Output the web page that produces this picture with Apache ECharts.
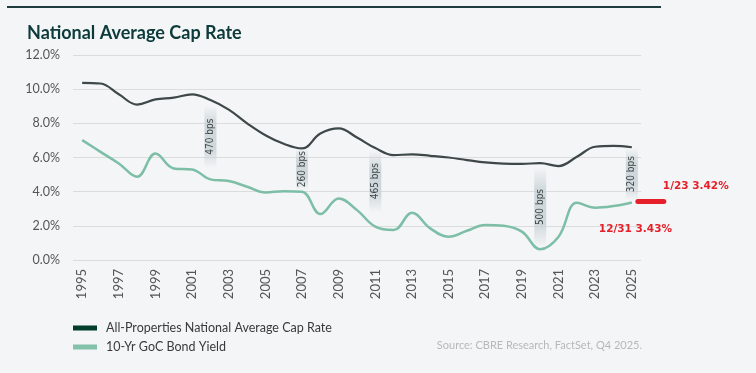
<!DOCTYPE html>
<html>
<head>
<meta charset="utf-8">
<script src="https://cdn.jsdelivr.net/npm/echarts@6/dist/echarts.min.js"></script>
<style>
html,body{margin:0;padding:0;background:#f4f5f6;}
#c{width:756px;height:373px;}
</style>
</head>
<body>
<div id="c"></div>
<script>
var years = ['1995','1996','1997','1998','1999','2000','2001','2002','2003','2004','2005','2006','2007','2008','2009','2010','2011','2012','2013','2014','2015','2016','2017','2018','2019','2020','2021','2022','2023','2024','2025'];
var capRate = [10.37,10.33,9.7,9.1,9.4,9.5,9.7,9.36,8.8,8.0,7.3,6.8,6.53,7.4,7.7,7.17,6.55,6.14,6.18,6.1,6.0,5.85,5.71,5.64,5.63,5.67,5.5,6.04,6.63,6.68,6.6];
var bondYield = [7.02,6.33,5.65,4.87,6.23,5.36,5.3,4.72,4.62,4.29,3.95,4.03,4.0,2.69,3.6,2.92,1.95,1.75,2.77,1.85,1.36,1.71,2.05,2.0,1.66,0.63,1.36,3.35,3.06,3.16,3.37];
var spreadYears = ['2002','2007','2011','2020','2025'];
var spreadLabels = ['470 bps','260 bps','465 bps','500 bps','320 bps'];
var spreadTop = [9.06,6.55,6.43,5.44,6.55];
var spreadBottom = [5.38,4.09,2.8,0.76,3.5];
var latestYear = '2025';
var latestValue = 3.42;
var latestLabel = '1/23 3.42%';
var yearEndLabel = '12/31 3.43%';
var yTicks = [0,2,4,6,8,10,12];

var chart = echarts.init(document.getElementById('c'), null, {renderer:'canvas'});
var FONT = 'Lato';
var spreadData = spreadYears.map(function(y,i){return [y, spreadTop[i], spreadBottom[i], spreadLabels[i]];});

var option = {
  backgroundColor:'#f4f5f6',
  animation:false,
  title:{
    text:'National Average Cap Rate',
    left:22, top:19,
    textStyle:{fontFamily:FONT, fontWeight:'bold', fontSize:18, color:'#0d3a3a'}
  },
  graphic:[
    {type:'line', shape:{x1:7,y1:7,x2:661,y2:7}, style:{stroke:'#1d3d3d', lineWidth:2}},
    {type:'text', right:114, top:340, style:{text:'Source: CBRE Research, FactSet, Q4 2025.', fill:'#b8b8b8', font:'11px Lato'}}
  ],
  legend:{
    orient:'vertical', left:68, top:316,
    itemWidth:24, itemHeight:5, itemGap:5,
    icon:'rect',
    textStyle:{fontFamily:FONT, fontSize:12.5, color:'#3a3a3a', padding:[0,0,0,4], lineHeight:14},
    data:[
      {name:'All-Properties National Average Cap Rate', itemStyle:{color:'#003d2b'}},
      {name:'10-Yr GoC Bond Yield', itemStyle:{color:'#84c1ab'}}
    ]
  },
  grid:{left:73, right:115, top:55, bottom:113, containLabel:false},
  xAxis:{
    type:'category', data:years, boundaryGap:true,
    axisLine:{show:false}, axisTick:{show:false},
    axisLabel:{interval:1, rotate:90, margin:9, fontFamily:FONT, fontSize:13, color:'#555'}
  },
  yAxis:{
    type:'value', min:0, max:12, interval:2,
    axisLine:{show:false}, axisTick:{show:false},
    splitLine:{lineStyle:{color:'#dcdcdc', width:1}},
    axisLabel:{margin:13, fontFamily:FONT, fontSize:12.5, color:'#555', formatter:function(v){return v.toFixed(1)+'%';}}
  },
  series:[
    {
      type:'custom', name:'spread', silent:true, z:1,
      renderItem:function(params, api){
        var top = api.coord([api.value(0), api.value(1)]);
        var bot = api.coord([api.value(0), api.value(2)]);
        var w = 12;
        var label = spreadData[params.dataIndex][3];
        return {
          type:'group',
          children:[
            {type:'rect', shape:{x:top[0]-w/2, y:top[1], width:w, height:bot[1]-top[1]},
             style:{fill:new echarts.graphic.LinearGradient(0,0,0,1,[
               {offset:0,color:'rgba(200,210,215,0)'},
               {offset:0.3,color:'rgba(200,210,215,0.85)'},
               {offset:0.7,color:'rgba(200,210,215,0.85)'},
               {offset:1,color:'rgba(200,210,215,0)'}])}},
            {type:'text', x:top[0], y:(top[1]+bot[1])/2, rotation:Math.PI/2,
             style:{text:label, fill:'#3f4545', font:'10px "Liberation Sans Narrow", "DejaVu Sans Condensed", sans-serif', align:'center', verticalAlign:'middle'}}
          ]
        };
      },
      encode:{x:0, y:[1,2]},
      data:spreadData
    },
    {
      name:'All-Properties National Average Cap Rate', type:'line', data:capRate,
      smooth:0.4, symbol:'none', z:3,
      lineStyle:{color:'#3e4848', width:2.2}, itemStyle:{color:'#003d2b'}
    },
    {
      name:'10-Yr GoC Bond Yield', type:'line', data:bondYield,
      smooth:0.4, symbol:'none', z:3,
      lineStyle:{color:'#7dbea6', width:2.5}, itemStyle:{color:'#84c1ab'}
    },
    {
      type:'custom', name:'latest', silent:true, clip:false, z:5,
      renderItem:function(params, api){
        var p = api.coord([api.value(0), api.value(1)]);
        return {
          type:'group',
          children:[
            {type:'line', shape:{x1:p[0]+6, y1:p[1], x2:p[0]+32, y2:p[1]}, style:{stroke:'#e5202a', lineWidth:5, lineCap:'round'}},
            {type:'text', x:p[0]+31, y:p[1]-15, style:{text:latestLabel, fill:'#e5202a', font:'bold 10.5px "DejaVu Sans"', align:'left', verticalAlign:'middle'}},
            {type:'text', x:p[0]-33, y:p[1]+28, style:{text:yearEndLabel, fill:'#e5202a', font:'bold 10.5px "DejaVu Sans"', align:'left', verticalAlign:'middle'}}
          ]
        };
      },
      data:[[latestYear, latestValue]]
    }
  ]
};
chart.setOption(option);
</script>
</body>
</html>
